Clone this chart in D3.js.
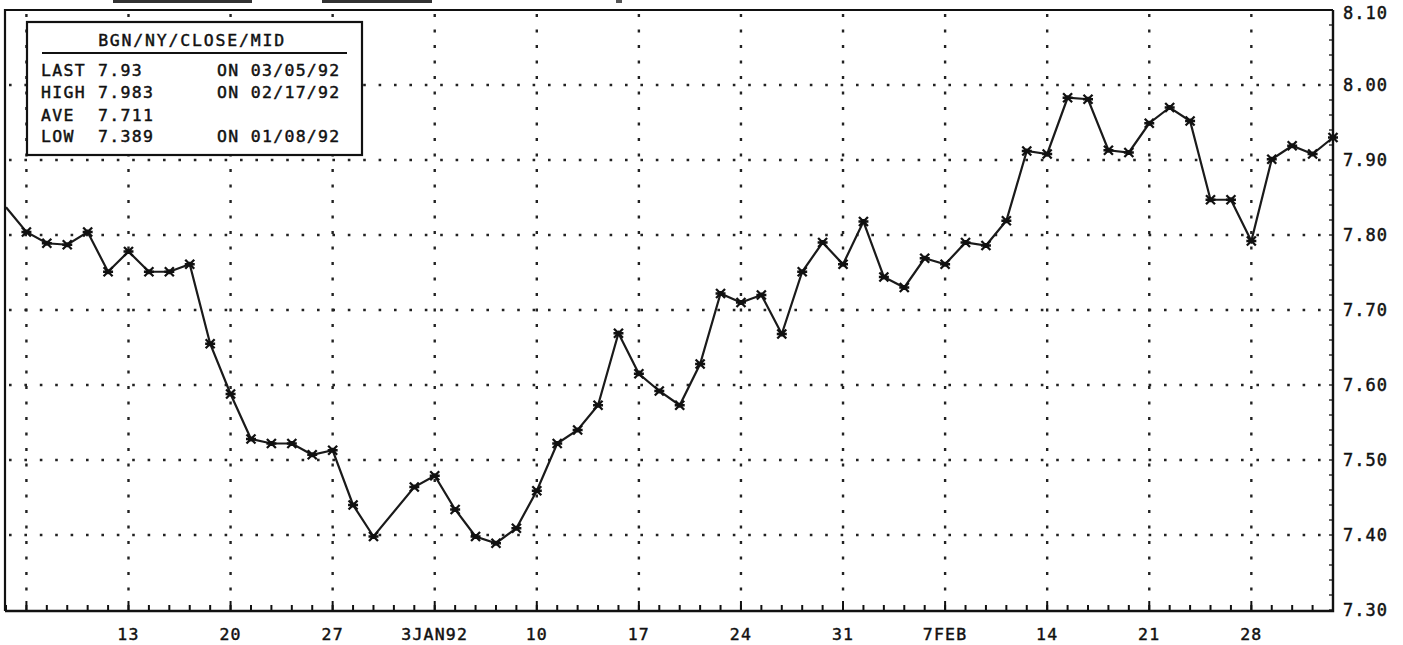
<!DOCTYPE html>
<html><head><meta charset="utf-8">
<script src="https://cdn.jsdelivr.net/npm/d3@7"></script>
<style>
html,body{margin:0;padding:0;background:#fff;}
svg{display:block;}
text{font-family:"DejaVu Sans Mono","Liberation Mono",monospace;fill:#111;stroke:#111;stroke-width:0.45px;}
</style></head>
<body>
<script>
// ---- data ----
const dates = ["1991-12-05","1991-12-06","1991-12-09","1991-12-10","1991-12-11","1991-12-12","1991-12-13",
"1991-12-16","1991-12-17","1991-12-18","1991-12-19","1991-12-20","1991-12-23","1991-12-24","1991-12-25",
"1991-12-26","1991-12-27","1991-12-30","1991-12-31","1992-01-02","1992-01-03","1992-01-06","1992-01-07",
"1992-01-08","1992-01-09","1992-01-10","1992-01-13","1992-01-14","1992-01-15","1992-01-16","1992-01-17",
"1992-01-20","1992-01-21","1992-01-22","1992-01-23","1992-01-24","1992-01-27","1992-01-28","1992-01-29",
"1992-01-30","1992-01-31","1992-02-03","1992-02-04","1992-02-05","1992-02-06","1992-02-07","1992-02-10",
"1992-02-11","1992-02-12","1992-02-13","1992-02-14","1992-02-17","1992-02-18","1992-02-19","1992-02-20",
"1992-02-21","1992-02-24","1992-02-25","1992-02-26","1992-02-27","1992-02-28","1992-03-02","1992-03-03",
"1992-03-04","1992-03-05"];
const values = [7.837,7.804,7.789,7.787,7.804,7.751,7.778,
7.751,7.751,7.761,7.655,7.588,7.528,7.522,7.522,
7.507,7.513,7.440,7.398,7.464,7.479,7.434,7.398,
7.389,7.409,7.459,7.522,7.540,7.573,7.669,7.615,
7.592,7.573,7.628,7.722,7.710,7.720,7.668,7.751,
7.790,7.761,7.818,7.744,7.730,7.769,7.761,7.790,
7.786,7.819,7.912,7.908,7.983,7.981,7.913,7.910,
7.949,7.970,7.952,7.847,7.847,7.792,7.901,7.919,
7.908,7.930];
const axisStart = "1991-12-05", axisEnd = "1992-03-05";
const xTickDates = ["1991-12-06","1991-12-13","1991-12-20","1991-12-27","1992-01-03","1992-01-10","1992-01-17",
"1992-01-24","1992-01-31","1992-02-07","1992-02-14","1992-02-21","1992-02-28"];
const xTickLabels = ["","13","20","27","3JAN92","10","17","24","31","7FEB","14","21","28"];
const yTicks = [7.30,7.40,7.50,7.60,7.70,7.80,7.90,8.00,8.10];
const yTickLabels = ["7.30","7.40","7.50","7.60","7.70","7.80","7.90","8.00","8.10"];
const legendTitle = "BGN/NY/CLOSE/MID";
const legendNames = ["LAST","HIGH","AVE","LOW"];
const legendValues = ["7.93","7.983","7.711","7.389"];
const legendDates = ["ON 03/05/92","ON 02/17/92","","ON 01/08/92"];

// ---- setup ----
const W = 1403, H = 645;
const svg = d3.select("body").append("svg").attr("width", W).attr("height", H);
const parse = d3.utcParse("%Y-%m-%d");
const t0 = parse(axisStart), t1 = parse(axisEnd);
const isWeekday = d => d.getUTCDay() !== 0 && d.getUTCDay() !== 6;
const bdays = d3.utcDays(t0, d3.utcDay.offset(t1, 1)).filter(isWeekday);
const bIndex = s => { const d = parse(s); return bdays.findIndex(b => +b === +d); };

const x = d3.scaleLinear().domain([0, bdays.length - 1]).range([6, 1333]);
const y = d3.scaleLinear().domain([7.30, 8.10]).range([610, 10]);
const L = 5, R = 1333, T = 10, B = 611;

// top artifacts (cut-off buttons)
svg.append("rect").attr("x",113).attr("y",0).attr("width",139).attr("height",3).attr("fill","#333");
svg.append("rect").attr("x",322).attr("y",0).attr("width",110).attr("height",3).attr("fill","#333");
svg.append("rect").attr("x",616).attr("y",0).attr("width",6).attr("height",3).attr("fill","#555");

// grid
const g = svg.append("g");
g.selectAll(".hg").data(yTicks.filter(v => v > 7.31 && v < 8.09)).join("line")
  .attr("x1", L + 4).attr("x2", R - 2).attr("y1", d => y(d)).attr("y2", d => y(d))
  .attr("stroke", "#222").attr("stroke-width", 2.6).attr("stroke-dasharray", "2.6,12.8");
g.selectAll(".vg").data(xTickDates).join("line")
  .attr("x1", d => x(bIndex(d))).attr("x2", d => x(bIndex(d)))
  .attr("y1", T + 4).attr("y2", B - 12)
  .attr("stroke", "#222").attr("stroke-width", 2.4).attr("stroke-dasharray", "3,12.5");

// bottom axis ticks
const ax = svg.append("g");
ax.selectAll(".mt").data(d3.range(bdays.length)).join("line")
  .attr("x1", d => x(d)).attr("x2", d => x(d)).attr("y1", B).attr("y2", B - 6)
  .attr("stroke", "#111").attr("stroke-width", 2);
ax.selectAll(".Mt").data(xTickDates).join("line")
  .attr("x1", d => x(bIndex(d))).attr("x2", d => x(bIndex(d))).attr("y1", B).attr("y2", B - 10)
  .attr("stroke", "#111").attr("stroke-width", 2);
ax.selectAll(".xl").data(xTickDates).join("text")
  .attr("x", d => x(bIndex(d))).attr("y", 640)
  .attr("text-anchor", "middle").attr("font-size", 16.5).attr("letter-spacing", 1.2)
  .text((d, i) => xTickLabels[i]);

// right axis minor ticks
ax.selectAll(".rt").data(d3.range(7.30, 8.1001, 0.02)).join("line")
  .attr("x1", R).attr("x2", R - 4).attr("y1", d => y(d)).attr("y2", d => y(d))
  .attr("stroke", "#333").attr("stroke-width", 1.5);
ax.selectAll(".yl").data(yTicks).join("text")
  .attr("x", 1343).attr("y", d => Math.max(y(d), 13)).attr("dy", "0.36em")
  .attr("font-size", 17).attr("letter-spacing", 1)
  .text((d, i) => yTickLabels[i]);

// frame
svg.append("path").attr("d", `M${L},${B}V${T}H${R}`).attr("fill", "none").attr("stroke", "#111").attr("stroke-width", 2.2);
svg.append("path").attr("d", `M${L},${B}H${R}V${T}`).attr("fill", "none").attr("stroke", "#111").attr("stroke-width", 2.4);

// data line
const pts = dates.map((d, i) => ({ i: bIndex(d), v: values[i] }));
svg.append("path").datum(pts)
  .attr("d", d3.line().x(d => x(d.i)).y(d => y(d.v)))
  .attr("fill", "none").attr("stroke", "#1a1a1a").attr("stroke-width", 2.2);
const star = "M-4.5,-4.5L4.5,4.5M-4.5,4.5L4.5,-4.5M-5,0L5,0M0,-2.5L0,2.5";
svg.selectAll(".mk").data(pts.slice(1)).join("path")
  .attr("transform", d => `translate(${x(d.i)},${y(d.v)})`)
  .attr("d", star).attr("stroke", "#111").attr("stroke-width", 2.3).attr("fill", "none");

// legend box
const lg = svg.append("g");
lg.append("rect").attr("x", 27).attr("y", 22).attr("width", 335).attr("height", 133)
  .attr("fill", "#fff").attr("stroke", "#111").attr("stroke-width", 2.2);
lg.append("text").attr("x", 192).attr("y", 40).attr("dy", "0.36em").attr("text-anchor", "middle")
  .attr("font-size", 16.5).attr("letter-spacing", 1.8).text(legendTitle);
lg.append("line").attr("x1", 42).attr("x2", 347).attr("y1", 53).attr("y2", 53).attr("stroke", "#111").attr("stroke-width", 2);
const rowY = [70, 92, 115, 136];
legendNames.forEach((n, i) => {
  lg.append("text").attr("x", 41).attr("y", rowY[i]).attr("dy", "0.36em").attr("font-size", 16.5).attr("letter-spacing", 1.3).text(n);
  lg.append("text").attr("x", 98).attr("y", rowY[i]).attr("dy", "0.36em").attr("font-size", 16.5).attr("letter-spacing", 1.3).text(legendValues[i]);
  lg.append("text").attr("x", 217).attr("y", rowY[i]).attr("dy", "0.36em").attr("font-size", 16.5).attr("letter-spacing", 1.3).text(legendDates[i]);
});
</script>
</body></html>
